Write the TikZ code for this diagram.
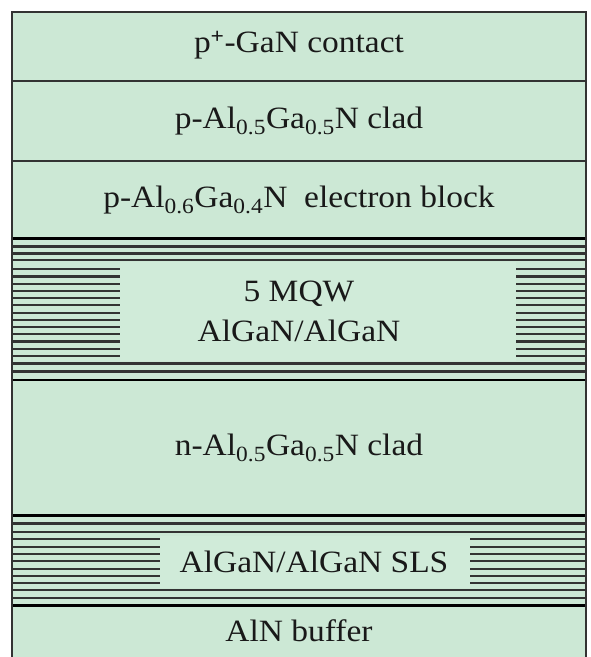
\documentclass[tikz,border=0pt]{standalone}
\usepackage{fontspec}
\setmainfont[FakeStretch=1.08]{Liberation Serif}
\usepackage{xcolor}
\usetikzlibrary{positioning}

\definecolor{layergreen}{RGB}{204,232,213}
\definecolor{labelgreen}{RGB}{208,235,217}

\tikzset{
  layertext/.style={font=\fontsize{31}{40}\selectfont, text=black!90, align=center, inner sep=0pt},
  thinline/.style={line width=1.3pt, black!80},
  thickline/.style={line width=2.8pt, black},
  wellline/.style={line width=2.1pt, black!80}
}

\begin{document}
\begin{tikzpicture}[x=1pt,y=-1pt]
  \useasboundingbox (0,0) rectangle (591,657);
  \clip (0,0) rectangle (591,657);

  % substrate background
  \fill[layergreen] (12,12) rectangle (586,670);
  \fill[labelgreen] (120,262) rectangle (516,361);
  \fill[labelgreen] (160,536) rectangle (470,588);

  % p side
  \draw[thinline] (12,81) -- (586,81);
  \draw[thinline] (12,161) -- (586,161);
  \node[layertext] (contact) at (299,45) {p\textsuperscript{\textbf{+}}-GaN contact};
  \node[layertext] (pclad) at (299,121) {p-Al\textsubscript{0.5}Ga\textsubscript{0.5}N clad};
  \node[layertext] (eblock) at (299,200) {p-Al\textsubscript{0.6}Ga\textsubscript{0.4}N\ \ electron block};

  % MQW
  \draw[thickline] (12,238.5) -- (586,238.5);
  \foreach \y in {246.5,253.5,260} {
    \draw[wellline] (12,\y) -- (586,\y);
  }
  \foreach \i in {0,...,12} {
    \draw[wellline] (12,269.3+7.22*\i) -- (120,269.3+7.22*\i);
    \draw[wellline] (516,269.3+7.22*\i) -- (586,269.3+7.22*\i);
  }
  \foreach \y in {363.5,371.5} {
    \draw[wellline] (12,\y) -- (586,\y);
  }
  \draw[thickline] (12,380) -- (586,380);
  \node[layertext] (mqw) at (299,311) {5 MQW\\AlGaN/AlGaN};

  % n side
  \node[layertext] (nclad) at (299,448) {n-Al\textsubscript{0.5}Ga\textsubscript{0.5}N clad};

  % SLS
  \draw[thickline] (12,515.7) -- (586,515.7);
  \foreach \y in {523.5,532.3} {
    \draw[wellline] (12,\y) -- (586,\y);
  }
  \foreach \i in {0,...,6} {
    \draw[wellline] (12,539.3+7.33*\i) -- (160,539.3+7.33*\i);
    \draw[wellline] (470,539.3+7.33*\i) -- (586,539.3+7.33*\i);
  }
  \foreach \y in {590,597.7} {
    \draw[wellline] (12,\y) -- (586,\y);
  }
  \draw[thickline] (12,605.7) -- (586,605.7);
  \node[layertext] (sls) at (314,562) {AlGaN/AlGaN SLS};
  \node[layertext] (buffer) at (299,631) {AlN buffer};

  % outline
  \draw[line width=1.3pt, black!80] (12,670) -- (12,12) -- (586,12) -- (586,670);
\end{tikzpicture}
\end{document}
